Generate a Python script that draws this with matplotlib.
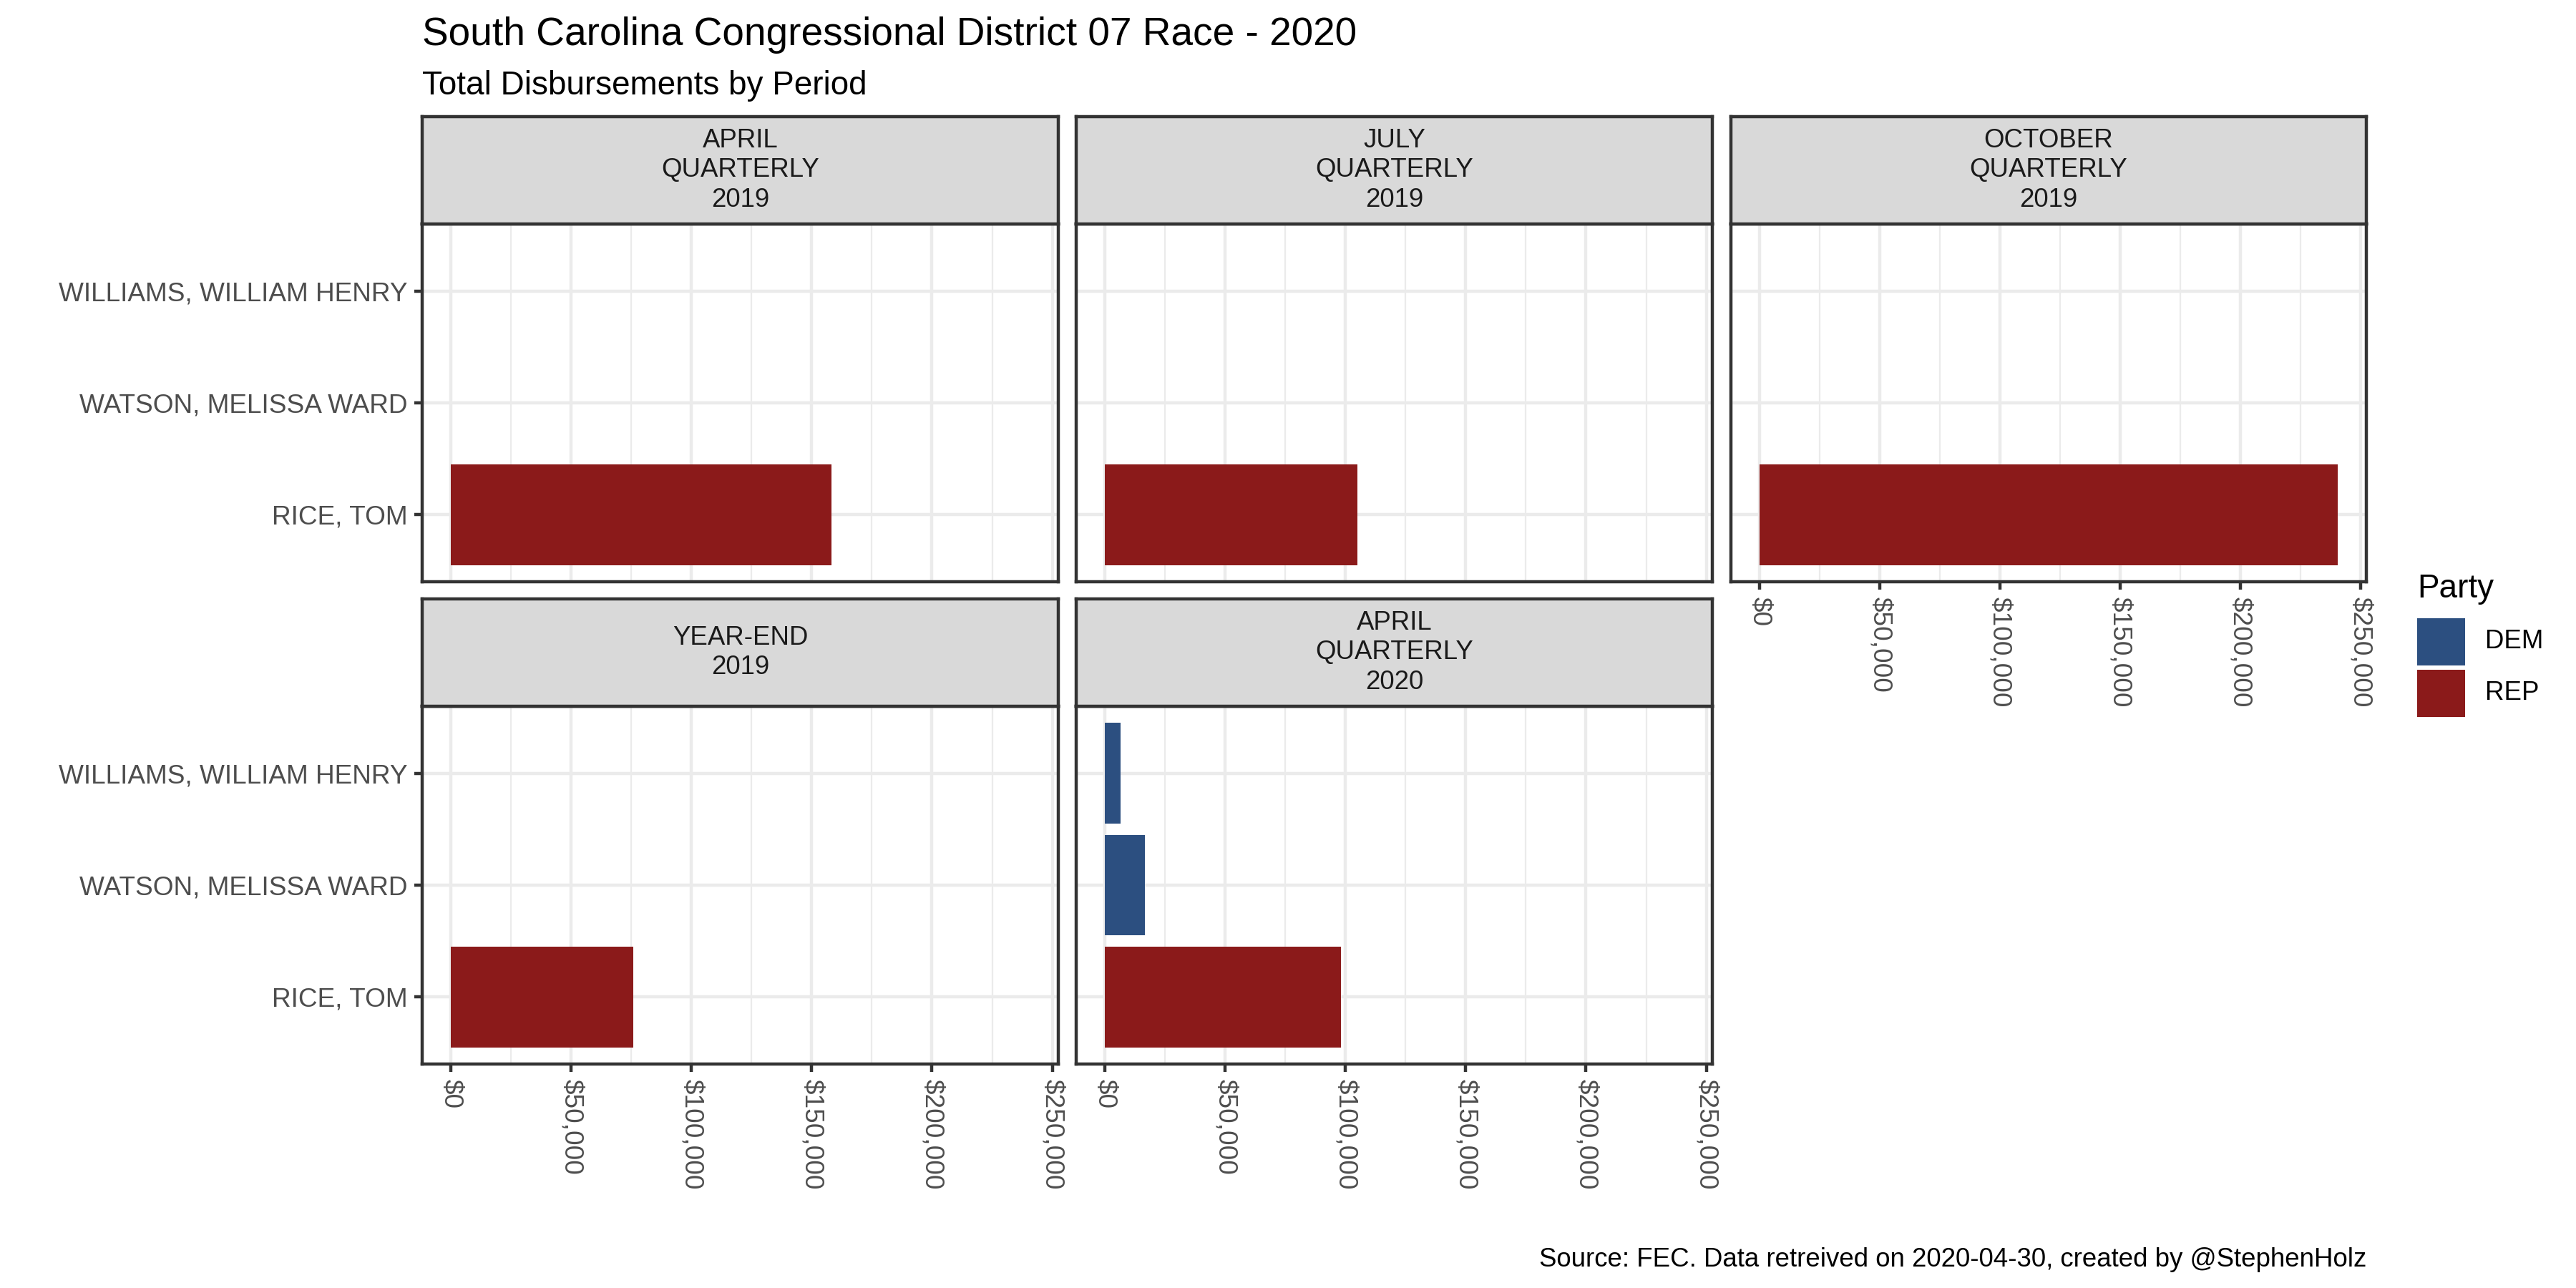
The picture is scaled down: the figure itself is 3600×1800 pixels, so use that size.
import matplotlib
matplotlib.use("Agg")
import matplotlib.pyplot as plt
from matplotlib.patches import Rectangle
from matplotlib.ticker import FuncFormatter, MultipleLocator

plt.rcParams['font.family'] = ['Liberation Sans', 'DejaVu Sans']

# ---------------- data ----------------
periods = ["APRIL\nQUARTERLY\n2019", "JULY\nQUARTERLY\n2019", "OCTOBER\nQUARTERLY\n2019",
           "YEAR-END\n2019", "APRIL\nQUARTERLY\n2020"]
candidates = ["RICE, TOM", "WATSON, MELISSA WARD", "WILLIAMS, WILLIAM HENRY"]
candidate_party = ["REP", "DEM", "DEM"]
rice_disb = [158300, 104900, 240500, 75700, 98000]
watson_disb = [0, 0, 0, 0, 16500]
williams_disb = [0, 0, 0, 0, 6500]
parties = ["DEM", "REP"]
party_colors = {"DEM": "#2C4F80", "REP": "#8B1A1A"}

title = "South Carolina Congressional District 07 Race - 2020"
subtitle = "Total Disbursements by Period"
caption = "Source: FEC. Data retreived on 2020-04-30, created by @StephenHolz"

series = [rice_disb, watson_disb, williams_disb]

# ---------------- layout ----------------
W, H = 3600, 1800
fig = plt.figure(figsize=(12, 6), dpi=300)
fig.patch.set_facecolor("white")


def rect(x0, y0, x1, y1):
    return [x0 / W, 1 - y1 / H, (x1 - x0) / W, (y1 - y0) / H]


cols = [(590, 1479), (1504, 2393), (2419, 3307)]
panel_rows = [(313, 813), (987, 1487)]
strip_rows = [(163, 313), (837, 987)]
slots = [(0, 0), (0, 1), (0, 2), (1, 0), (1, 1)]

BORDER = "#333333"
GRID = "#EBEBEB"
LW = 1.07
AXFS = 8.9

xmax = max(max(s) for s in series)
lo, hi = -0.05 * xmax, 1.05 * xmax

money = FuncFormatter(lambda v, p: "${:,.0f}".format(v))

for i, per in enumerate(periods):
    r, c = slots[i]
    x0, x1 = cols[c]
    py0, py1 = panel_rows[r]
    ax = fig.add_axes(rect(x0, py0, x1, py1))
    ax.set_facecolor("white")
    ax.set_xlim(lo, hi)
    ax.set_ylim(0.4, 3.6)
    ax.set_axisbelow(True)
    ax.xaxis.set_major_locator(MultipleLocator(50000))
    ax.xaxis.set_minor_locator(MultipleLocator(25000))
    ax.xaxis.set_major_formatter(money)
    ax.set_yticks([1, 2, 3])
    ax.set_yticklabels(candidates)
    ax.grid(which="major", color=GRID, lw=LW)
    ax.grid(which="minor", axis="x", color=GRID, lw=LW / 2)
    for j, s in enumerate(series):
        v = s[i]
        if v > 0:
            ax.barh(j + 1, v, height=0.9, color=party_colors[candidate_party[j]], lw=0, zorder=2)
    for sp in ax.spines.values():
        sp.set_color(BORDER)
        sp.set_linewidth(LW)
        sp.set_zorder(5)
    ax.tick_params(which="major", length=2.75, width=LW, color=BORDER,
                   labelcolor="#4D4D4D", labelsize=AXFS, pad=2.2)
    ax.tick_params(which="minor", length=0)
    show_x = (r == 1) or (r == 0 and c == 2)
    if show_x:
        for lab in ax.get_xticklabels():
            lab.set_rotation(270)
            lab.set_ha("center")
            lab.set_va("top")
    else:
        ax.tick_params(axis="x", bottom=False, labelbottom=False)
    if c != 0:
        ax.tick_params(axis="y", left=False, labelleft=False)

    # strip
    sy0, sy1 = strip_rows[r]
    sax = fig.add_axes(rect(x0, sy0, x1, sy1))
    sax.set_facecolor("#D9D9D9")
    sax.set_xticks([])
    sax.set_yticks([])
    for sp in sax.spines.values():
        sp.set_color(BORDER)
        sp.set_linewidth(LW)
    sax.text(0.5, 0.5, per, ha="center", va="center", fontsize=8.8, color="#1A1A1A",
             linespacing=1.25, transform=sax.transAxes)

# titles
fig.text(590 / W, 1 - 63 / H, title, fontsize=13.2, color="black", ha="left", va="baseline")
fig.text(590 / W, 1 - 132 / H, subtitle, fontsize=11, color="black", ha="left", va="baseline")
fig.text(3307 / W, 1 - 1770 / H, caption, fontsize=8.8, color="black", ha="right", va="baseline")

# legend
fig.text(3378 / W, 1 - 835 / H, "Party", fontsize=11, color="black", ha="left", va="baseline")
key_tops = [864, 936]
for k, p in enumerate(parties):
    t = key_tops[k]
    fig.patches.append(Rectangle((3378 / W, 1 - (t + 66) / H), 67 / W, 66 / H,
                                 transform=fig.transFigure, facecolor=party_colors[p],
                                 edgecolor="none"))
    fig.text(3473 / W, 1 - (t + 33) / H, p, fontsize=8.8, color="black",
             ha="left", va="center")

fig.savefig("out.png", dpi=300, facecolor="white")
